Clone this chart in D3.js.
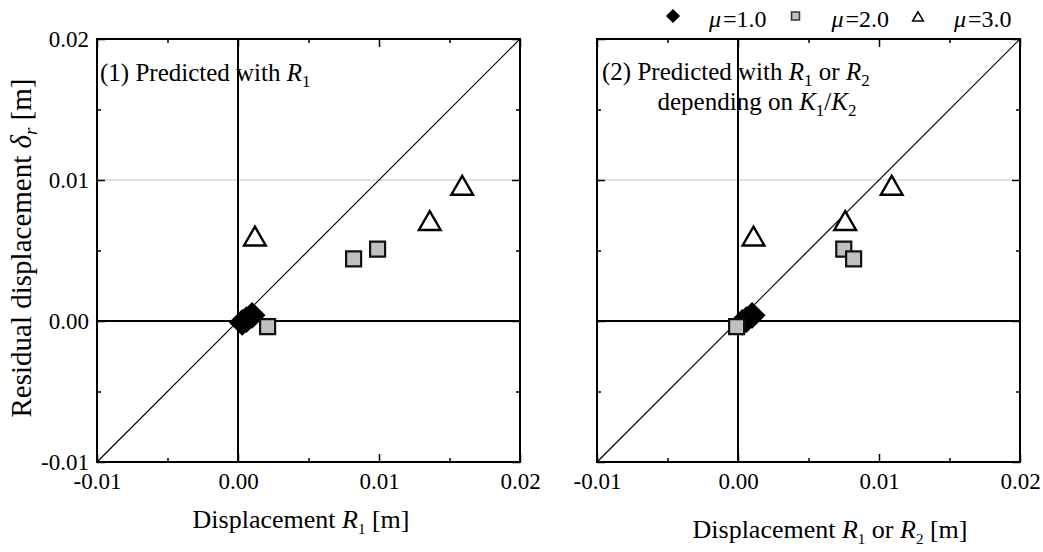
<!DOCTYPE html>
<html>
<head>
<meta charset="utf-8">
<script src="https://cdn.jsdelivr.net/npm/d3@7"></script>
<style>
  body { margin: 0; background: #fff; }
  svg text { font-family: "Liberation Serif", "Times New Roman", serif; fill: #000; }
</style>
</head>
<body>
<svg id="chart" width="1043" height="552"></svg>
<script>
const serif = '"Liberation Serif", "Times New Roman", serif';

// axis ticks (same on both axes of both panels)
const majorTicks = [-0.01, 0, 0.01, 0.02];
const majorTickLabels = ["-0.01", "0.00", "0.01", "0.02"];
const minorTicks = [-0.005, 0.005, 0.015];

// legend
const legendValues = ["1.0", "2.0", "3.0"];

// panel (1): predicted with R1  -> [x, residual]
const p1Mu1 = [[0.0003, -0.0001], [0.0006, 0.0001], [0.0010, 0.0004]];
const p1Mu2 = [[0.0082, 0.0044], [0.0099, 0.0051], [0.0021, -0.0004]];
const p1Mu3 = [[0.0012, 0.0058], [0.0136, 0.0069], [0.0159, 0.0094]];

// panel (2): predicted with R1 or R2
const p2Mu1 = [[0.0003, -0.0001], [0.0006, 0.0001], [0.0010, 0.0004]];
const p2Mu2 = [[0.0075, 0.0051], [0.0082, 0.0044], [-0.0001, -0.0004]];
const p2Mu3 = [[0.0011, 0.0058], [0.0076, 0.0069], [0.0109, 0.0094]];

const svg = d3.select("#chart");
const size = 423;

const x = d3.scaleLinear().domain([-0.01, 0.02]).range([0, size]);
const y = d3.scaleLinear().domain([-0.01, 0.02]).range([size, 0]);

const diamond = d3.symbol(d3.symbolSquare, 360);
const square = d3.symbol(d3.symbolSquare, 225);
const triangle = d3.symbol(d3.symbolTriangle, 205);

function styleAxis(g) {
    g.attr("font-family", serif).attr("font-size", 23);
    g.select(".domain").remove();
    g.selectAll(".tick line").attr("stroke", "#000").attr("stroke-width", 1.5);
    g.selectAll(".tick text").style("font-family", serif).style("font-size", "23px").attr("fill", "#000");
}

function drawPanel(left, mu1, mu2, mu3, showYLabels) {
    const g = svg.append("g").attr("transform", `translate(${left},39)`);

    // light grid line at 0.01
    g.append("line")
        .attr("x1", 0).attr("x2", size)
        .attr("y1", y(0.01)).attr("y2", y(0.01))
        .attr("stroke", "#c4c4c4").attr("stroke-width", 1);

    // minor ticks
    g.append("g").attr("transform", `translate(0,${size})`)
        .call(d3.axisBottom(x).tickValues(minorTicks).tickSize(-4).tickFormat("")).call(styleAxis);
    g.append("g")
        .call(d3.axisTop(x).tickValues(minorTicks).tickSize(-4).tickFormat("")).call(styleAxis);
    g.append("g")
        .call(d3.axisLeft(y).tickValues(minorTicks).tickSize(-4).tickFormat("")).call(styleAxis);
    g.append("g").attr("transform", `translate(${size},0)`)
        .call(d3.axisRight(y).tickValues(minorTicks).tickSize(-4).tickFormat("")).call(styleAxis);

    // major ticks
    g.append("g").attr("transform", `translate(0,${size})`)
        .call(d3.axisBottom(x).tickValues(majorTicks).tickSize(-8).tickPadding(11)
            .tickFormat((d, i) => majorTickLabels[i])).call(styleAxis);
    g.append("g")
        .call(d3.axisTop(x).tickValues(majorTicks).tickSize(-8).tickFormat("")).call(styleAxis);
    g.append("g")
        .call(d3.axisLeft(y).tickValues(majorTicks).tickSize(-8).tickPadding(8)
            .tickFormat((d, i) => showYLabels ? majorTickLabels[i] : "")).call(styleAxis);
    g.append("g").attr("transform", `translate(${size},0)`)
        .call(d3.axisRight(y).tickValues(majorTicks).tickSize(-8).tickFormat("")).call(styleAxis);

    // zero lines
    g.append("line")
        .attr("x1", x(0)).attr("x2", x(0)).attr("y1", 0).attr("y2", size)
        .attr("stroke", "#000").attr("stroke-width", 2);
    g.append("line")
        .attr("x1", 0).attr("x2", size).attr("y1", y(0)).attr("y2", y(0))
        .attr("stroke", "#000").attr("stroke-width", 2);

    // 1:1 line
    g.append("line")
        .attr("x1", x(-0.01)).attr("y1", y(-0.01))
        .attr("x2", x(0.02)).attr("y2", y(0.02))
        .attr("stroke", "#000").attr("stroke-width", 1.2);

    // frame
    g.append("rect")
        .attr("width", size).attr("height", size)
        .attr("fill", "none").attr("stroke", "#000").attr("stroke-width", 2);

    // markers
    g.selectAll(".mu1").data(mu1).enter().append("path")
        .attr("class", "mu1")
        .attr("d", diamond)
        .attr("transform", d => `translate(${x(d[0])},${y(d[1])}) rotate(45)`)
        .attr("fill", "#000");

    g.selectAll(".mu2").data(mu2).enter().append("path")
        .attr("class", "mu2")
        .attr("d", square)
        .attr("transform", d => `translate(${x(d[0])},${y(d[1])})`)
        .attr("fill", "#c0c0c0").attr("stroke", "#111").attr("stroke-width", 2.2);

    g.selectAll(".mu3").data(mu3).enter().append("path")
        .attr("class", "mu3")
        .attr("d", triangle)
        .attr("transform", d => `translate(${x(d[0])},${y(d[1])})`)
        .attr("fill", "#fff").attr("stroke", "#000").attr("stroke-width", 2.4);

    return g;
}

drawPanel(97, p1Mu1, p1Mu2, p1Mu3, true);
drawPanel(597, p2Mu1, p2Mu2, p2Mu3, false);

// helper: append text runs [text, italic, subscript]
function runs(textEl, parts, subSize) {
    let sub = false;
    parts.forEach(p => {
        const t = textEl.append("tspan").text(p[0]);
        if (p[1]) t.attr("font-style", "italic");
        if (p[2] && !sub) { t.attr("dy", 6).style("font-size", subSize + "px"); sub = true; }
        else if (p[2]) { t.style("font-size", subSize + "px"); }
        else if (sub) { t.attr("dy", -6); sub = false; }
    });
}

// panel titles
runs(svg.append("text").attr("x", 100).attr("y", 81).style("font-size", "25px"),
    [["(1) Predicted with "], ["R", true], ["1", false, true]], 17);
runs(svg.append("text").attr("x", 602).attr("y", 80).style("font-size", "25px"),
    [["(2) Predicted with "], ["R", true], ["1", false, true], [" or "], ["R", true], ["2", false, true]], 17);
runs(svg.append("text").attr("x", 757).attr("y", 110).attr("text-anchor", "middle").style("font-size", "25px"),
    [["depending on "], ["K", true], ["1", false, true], ["/"], ["K", true], ["2", false, true]], 17);

// axis titles
runs(svg.append("text").attr("x", 301).attr("y", 528).attr("text-anchor", "middle").style("font-size", "26px"),
    [["Displacement "], ["R", true], ["1", false, true], [" [m]"]], 15);
runs(svg.append("text").attr("x", 830).attr("y", 538).attr("text-anchor", "middle").style("font-size", "26px"),
    [["Displacement "], ["R", true], ["1", false, true], [" or "], ["R", true], ["2", false, true], [" [m]"]], 15);
runs(svg.append("text").attr("transform", "translate(31,248) rotate(-90)").attr("text-anchor", "middle").style("font-size", "29px"),
    [["Residual displacement "], ["δ", true], ["r", true, true], [" [m]"]], 19);

// legend
const legend = svg.append("g");
const legendSymbols = [
    { d: d3.symbol(d3.symbolSquare, 100)(), rot: 45, fill: "#000", stroke: "none", sw: 0 },
    { d: d3.symbol(d3.symbolSquare, 64)(), rot: 0, fill: "#c0c0c0", stroke: "#333", sw: 1.5 },
    { d: d3.symbol(d3.symbolTriangle, 50)(), rot: 0, fill: "#fff", stroke: "#000", sw: 1.5 }
];
legendValues.forEach((v, i) => {
    const cx = 673 + i * 122.5;
    const s = legendSymbols[i];
    legend.append("path").attr("d", s.d)
        .attr("transform", `translate(${cx},${i === 2 ? 18 : 16}) rotate(${s.rot})`)
        .attr("fill", s.fill).attr("stroke", s.stroke).attr("stroke-width", s.sw);
    const t = legend.append("text").attr("x", cx + 36).attr("y", 27).style("font-size", "24px");
    t.append("tspan").attr("font-style", "italic").text("μ");
    t.append("tspan").attr("dx", 2).text("=" + v);
});
</script>
</body>
</html>
